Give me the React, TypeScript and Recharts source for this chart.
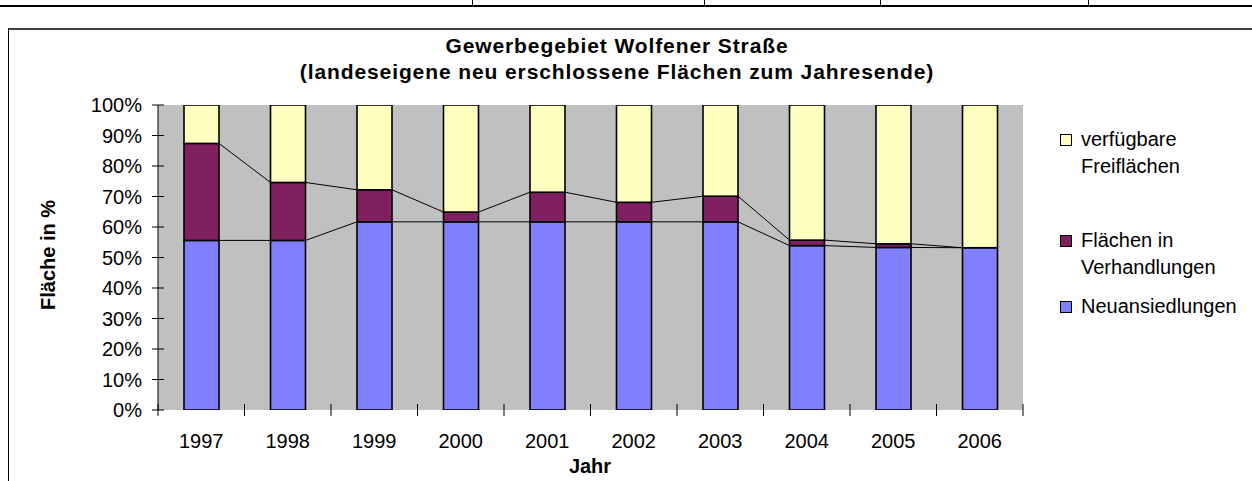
import React from 'react';
import { BarChart, Bar, XAxis, YAxis, CartesianGrid, Legend, ReferenceArea } from 'recharts';

const years = ['1997', '1998', '1999', '2000', '2001', '2002', '2003', '2004', '2005', '2006'];
const neuansiedlungen = [55.6, 55.6, 61.7, 61.7, 61.7, 61.7, 61.7, 53.9, 53.3, 53.2];
const verhandlungen = [31.8, 19.0, 10.5, 3.2, 9.7, 6.4, 8.4, 1.8, 1.2, 0];
const freiflaechen = years.map((_, i) => +(100 - neuansiedlungen[i] - verhandlungen[i]).toFixed(1));
const yTicks = [0, 10, 20, 30, 40, 50, 60, 70, 80, 90, 100];

const titleLine1 = 'Gewerbegebiet Wolfener Straße';
const titleLine2 = '(landeseigene neu erschlossene Flächen zum Jahresende)';
const yTitle = 'Fläche in %';
const xTitle = 'Jahr';

const legendItems = [
  { lines: ['verfügbare', 'Freiflächen'], color: '#FFFFC0', top: 126 },
  { lines: ['Flächen in', 'Verhandlungen'], color: '#802060', top: 227 },
  { lines: ['Neuansiedlungen'], color: '#8080FF', top: 293 },
];

const data = years.map((y, i) => ({
  year: y,
  neu: neuansiedlungen[i],
  verh: verhandlungen[i],
  frei: freiflaechen[i],
}));

const CHART_W = 1252;
const CHART_H = 481;
const MARGIN = { top: 105, right: 229, bottom: 0, left: 0 };
const YAXIS_W = 158;
const XAXIS_H = 71;
const X_TICK_MARGIN = 24;
const PLOT_H = CHART_H - MARGIN.top - MARGIN.bottom - XAXIS_H;
const STEP = (CHART_W - MARGIN.left - MARGIN.right - YAXIS_W) / years.length;
const FONT = '"Liberation Sans", Arial, sans-serif';

const makeShape = (fill: string, keys: string[] | null) => (props: any) => {
  const { x, y, width, height, index, background } = props;
  const plotTop = background && background.height ? background.y : MARGIN.top;
  const plotH = background && background.height ? background.height : PLOT_H;
  const yOf = (v: number) => plotTop + plotH * (1 - v / 100);
  let seriesLine = null;
  if (keys && index < data.length - 1) {
    const cur = keys.reduce((s, k) => s + (data[index] as any)[k], 0);
    const nxt = keys.reduce((s, k) => s + (data[index + 1] as any)[k], 0);
    seriesLine = (
      <line x1={x + width} y1={yOf(cur)} x2={x + STEP} y2={yOf(nxt)} stroke="#000" strokeWidth={1} />
    );
  }
  return (
    <g>
      {height > 0 && (
        <rect x={x} y={y} width={width} height={height} fill={fill} stroke="#000" strokeWidth={1.6} />
      )}
      {seriesLine}
    </g>
  );
};

const YTick = (props: any) => {
  const { x, y, payload } = props;
  const ax = x + 16;
  return (
    <g>
      <line x1={ax - 6} x2={ax + 6} y1={y} y2={y} stroke="#000" strokeWidth={1} />
      <text x={x} y={y} dy="0.36em" textAnchor="end" fontSize={20} fontFamily={FONT} fill="#000">
        {payload.value}%
      </text>
    </g>
  );
};

const XTick = (props: any) => {
  const { x, y, payload, index } = props;
  const ay = y - X_TICK_MARGIN;
  const left = x - STEP / 2;
  const right = x + STEP / 2;
  return (
    <g>
      <line x1={left} x2={left} y1={ay - 6} y2={ay + 6} stroke="#000" strokeWidth={1} />
      {index === years.length - 1 && (
        <line x1={right} x2={right} y1={ay - 6} y2={ay + 6} stroke="#000" strokeWidth={1} />
      )}
      <text x={x} y={y} dy="0.71em" textAnchor="middle" fontSize={20} fontFamily={FONT} fill="#000">
        {payload.value}
      </text>
    </g>
  );
};

const LegendContent = () => (
  <div style={{ position: 'relative', width: 190, height: 200, fontFamily: FONT, fontSize: 20, color: '#000' }}>
    {legendItems.map((it) => (
      <div key={it.lines[0]} style={{ position: 'absolute', left: 0, top: it.top - 125, lineHeight: '27px' }}>
        <span
          style={{
            position: 'absolute',
            left: 0,
            top: 8,
            width: 10,
            height: 10,
            background: it.color,
            border: '1px solid #000',
          }}
        />
        <div style={{ marginLeft: 21, whiteSpace: 'nowrap' }}>
          {it.lines.map((l) => (
            <div key={l}>{l}</div>
          ))}
        </div>
      </div>
    ))}
  </div>
);

export default function App() {
  return (
    <div style={{ position: 'absolute', left: 0, top: 0, width: CHART_W, height: CHART_H, background: '#fff', overflow: 'hidden' }}>
      <div style={{ position: 'absolute', left: 0, top: 5, width: CHART_W, height: 2, background: '#000' }} />
      {[472, 704, 880, 1088].map((vx) => (
        <div key={vx} style={{ position: 'absolute', left: vx, top: 0, width: 1, height: 6, background: '#000' }} />
      ))}
      <div style={{ position: 'absolute', left: 8, top: 28, width: CHART_W - 8, height: 2, background: '#404040' }} />
      <div style={{ position: 'absolute', left: 8, top: 28, width: 1, height: CHART_H - 28, background: '#000' }} />

      <div style={{ position: 'absolute', left: 0, top: 0 }}>
        <BarChart width={CHART_W} height={CHART_H} data={data} margin={MARGIN} barSize={35}>
          <CartesianGrid fill="#C0C0C0" horizontal={false} vertical={false} />
          <XAxis
            xAxisId="num"
            type="number"
            domain={[0, 10]}
            ticks={[0, 10]}
            height={0}
            tick={false}
            tickLine={false}
            axisLine={{ stroke: '#000', strokeWidth: 1 }}
            allowDataOverflow
          />
          <XAxis
            xAxisId="cat"
            dataKey="year"
            height={XAXIS_H}
            axisLine={false}
            tickLine={false}
            tickSize={0}
            tickMargin={X_TICK_MARGIN}
            tick={<XTick />}
            interval={0}
          />
          <YAxis
            width={YAXIS_W}
            domain={[0, 100]}
            ticks={yTicks}
            tickSize={6}
            tickMargin={10}
            tickLine={false}
            tick={<YTick />}
            axisLine={{ stroke: '#000', strokeWidth: 1 }}
            allowDataOverflow
          />
          <ReferenceArea xAxisId="num" x1={0} x2={10} y1={0} y2={100} fill="none" stroke="#808080" strokeWidth={1} />
          <Bar xAxisId="cat" dataKey="neu" stackId="s" name="Neuansiedlungen" fill="#8080FF" isAnimationActive={false} shape={makeShape('#8080FF', ['neu'])} />
          <Bar xAxisId="cat" dataKey="verh" stackId="s" name="Flächen in Verhandlungen" fill="#802060" isAnimationActive={false} shape={makeShape('#802060', ['neu', 'verh'])} />
          <Bar xAxisId="cat" dataKey="frei" stackId="s" name="verfügbare Freiflächen" fill="#FFFFC0" isAnimationActive={false} shape={makeShape('#FFFFC0', null)} />
          <Legend
            layout="vertical"
            align="center"
            verticalAlign="middle"
            content={<LegendContent />}
            wrapperStyle={{ position: 'absolute', left: 1060, top: 125, width: 190 }}
          />
        </BarChart>
      </div>

      <div style={{ position: 'absolute', left: 117, top: 33, width: 1000, textAlign: 'center', fontFamily: FONT, fontWeight: 'bold', fontSize: 21, letterSpacing: '0.9px', lineHeight: '26px', color: '#000' }}>
        <div>{titleLine1}</div>
        <div>{titleLine2}</div>
      </div>
      <div style={{ position: 'absolute', left: 48, top: 255, width: 0, height: 0 }}>
        <div style={{ position: 'absolute', left: 0, top: 0, transform: 'translate(-50%, -50%) rotate(-90deg)', whiteSpace: 'nowrap', fontFamily: FONT, fontWeight: 'bold', fontSize: 20, color: '#000' }}>
          {yTitle}
        </div>
      </div>
      <div style={{ position: 'absolute', left: 490, top: 454, width: 200, textAlign: 'center', fontFamily: FONT, fontWeight: 'bold', fontSize: 20, lineHeight: '24px', color: '#000' }}>
        {xTitle}
      </div>
    </div>
  );
}
